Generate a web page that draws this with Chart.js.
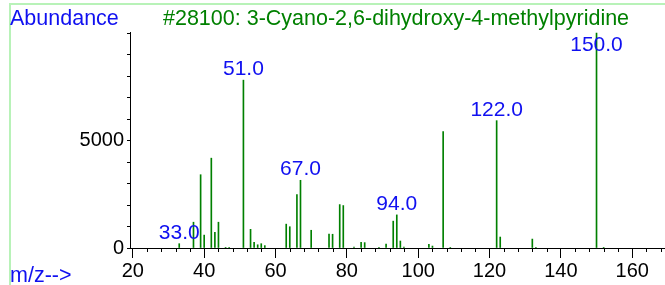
<!DOCTYPE html>
<html>
<head>
<meta charset="utf-8">
<style>
  html, body { margin: 0; padding: 0; background: #fff; }
  canvas { display: block; }
</style>
<script src="https://cdn.jsdelivr.net/npm/chart.js@4/dist/chart.umd.min.js"></script>
</head>
<body>
<canvas id="ms" width="665" height="285"></canvas>
<script>
// --- DATA ---
const mz = [33, 37, 39, 40, 42, 43, 44, 46, 47, 51, 53, 54, 55, 56, 57,
            63, 64, 66, 67, 70, 75, 76, 78, 79, 82, 84, 85, 89, 91, 93,
            94, 95, 96, 103, 104, 107, 109, 122, 123, 132, 133, 150, 152];
const abundance = [200, 1200, 3410, 600, 4180, 725, 1200, 30, 30, 7810, 870, 265, 150, 200, 110,
                   1110, 990, 2490, 3150, 825, 650, 640, 2020, 1975, 40, 265, 250, 30, 185, 1250,
                   1540, 325, 40, 170, 90, 5415, 30, 5925, 510, 415, 30, 10000, 30];
const labelledPeaks = [33, 51, 67, 94, 122, 150];
const yTicks = [0, 1000, 2000, 3000, 4000, 5000, 6000, 7000, 8000, 9000, 10000];
const yLabels = [0, 5000];

const TITLE = '#28100: 3-Cyano-2,6-dihydroxy-4-methylpyridine';
const FONT = '"Liberation Sans", Arial, sans-serif';
const GREEN = '#008000';
const BLUE = '#1010f0';

// --- frame, captions, peak labels, minor x ticks ---
const decorations = {
    id: 'decorations',
    beforeDraw(chart) {
        const ctx = chart.ctx;
        ctx.save();
        ctx.strokeStyle = '#b8f2b8';
        ctx.lineWidth = 2;
        ctx.beginPath();
        ctx.moveTo(665, 4);
        ctx.lineTo(10, 4);
        ctx.lineTo(10, 285);
        ctx.stroke();
        ctx.restore();
    },
    afterDraw(chart) {
        const ctx = chart.ctx;
        const x = chart.scales.x, y = chart.scales.y;
        const area = chart.chartArea;
        ctx.save();

        // minor ticks on m/z axis
        ctx.strokeStyle = '#000';
        ctx.lineWidth = 1;
        ctx.beginPath();
        for (let v = 20; v <= x.max; v += 4) {
            if (v % 20 === 0) continue;
            const px = Math.round(x.getPixelForValue(v)) + 0.5;
            ctx.moveTo(px, area.bottom);
            ctx.lineTo(px, area.bottom + 4);
        }
        ctx.stroke();

        ctx.textBaseline = 'alphabetic';

        // captions
        ctx.font = '21.5px ' + FONT;
        ctx.fillStyle = BLUE;
        ctx.textAlign = 'left';
        ctx.fillText('Abundance', 10, 25);
        ctx.fillText('m/z-->', 10, 282);
        ctx.fillStyle = GREEN;
        ctx.fillText(TITLE, 163, 25);

        // peak labels
        ctx.font = '21px ' + FONT;
        ctx.fillStyle = BLUE;
        ctx.textAlign = 'center';
        labelledPeaks.forEach(m => {
            const i = mz.indexOf(m);
            const px = x.getPixelForValue(m);
            const top = y.getPixelForValue(abundance[i]);
            const base = Math.max(top - 5, area.top + 19);
            ctx.fillText(m.toFixed(1), px, base);
        });
        ctx.restore();
    }
};

new Chart(document.getElementById('ms'), {
    type: 'bar',
    data: {
        datasets: [{
            data: mz.map((m, i) => ({ x: m, y: abundance[i] })),
            backgroundColor: GREEN,
            borderWidth: 0,
            barThickness: 1
        }]
    },
    options: {
        responsive: false,
        animation: false,
        layout: { padding: { top: 32, left: 0, right: 0, bottom: 0 } },
        plugins: { legend: { display: false }, tooltip: { enabled: false } },
        scales: {
            x: {
                type: 'linear',
                min: 19.2,
                max: 169.2,
                offset: false,
                grid: { drawOnChartArea: false, offset: false, tickLength: 10, color: '#000' },
                border: { color: '#000' },
                ticks: {
                    stepSize: 20,
                    includeBounds: false,
                    autoSkip: false,
                    maxRotation: 0,
                    padding: 1,
                    color: '#000',
                    font: { family: FONT, size: 20 }
                },
                afterFit: s => { s.height = 37; }
            },
            y: {
                min: 0,
                max: 10050,
                grid: { drawOnChartArea: false, tickLength: 3, color: '#000' },
                border: { color: '#000' },
                ticks: {
                    autoSkip: false,
                    padding: 3,
                    color: '#000',
                    font: { family: FONT, size: 20 },
                    callback: v => yLabels.includes(v) ? String(v) : ''
                },
                afterBuildTicks: s => { s.ticks = yTicks.map(v => ({ value: v })); },
                afterFit: s => { s.width = 130; }
            }
        }
    },
    plugins: [decorations]
});
</script>
</body>
</html>
